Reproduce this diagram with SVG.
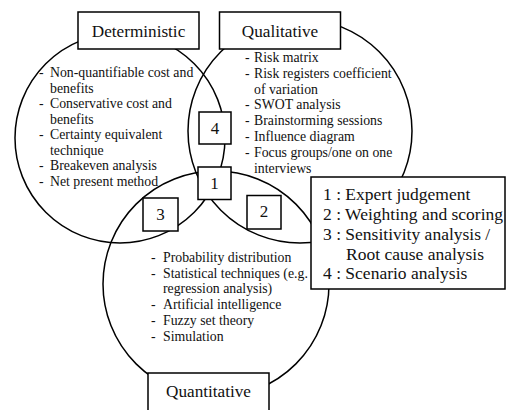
<svg xmlns="http://www.w3.org/2000/svg" width="507" height="410" viewBox="0 0 507 410">
<style>
.c{fill:none;stroke:#000;stroke-width:1.5}
.b{fill:#fff;stroke:#000;stroke-width:1.5}
</style>
<rect width="507" height="410" fill="#fff"/>
<g id="connectors">
<circle id="c-det" class="c" cx="120" cy="138" r="105"/>
<circle id="c-qual" class="c" cx="300" cy="131" r="112"/>
<circle id="c-quant" class="c" cx="216" cy="284" r="113"/>
</g>
<g id="deterministic">
<rect class="b" x="78" y="12" width="121" height="37"/>
<text font-family="Liberation Serif" font-size="17.2" text-anchor="middle" fill="#111" x="138.5" y="36.5">Deterministic</text>
<text font-family="Liberation Serif" font-size="13.8" fill="#111"><tspan x="39" y="77">-</tspan><tspan x="50" y="77">Non-quantifiable cost and</tspan><tspan x="50" y="92.5">benefits</tspan><tspan x="39" y="108">-</tspan><tspan x="50" y="108">Conservative cost and</tspan><tspan x="50" y="123.5">benefits</tspan><tspan x="39" y="139">-</tspan><tspan x="50" y="139">Certainty equivalent</tspan><tspan x="50" y="154.5">technique</tspan><tspan x="39" y="170">-</tspan><tspan x="50" y="170">Breakeven analysis</tspan><tspan x="39" y="186">-</tspan><tspan x="50" y="186">Net present method</tspan></text>
</g>
<g id="qualitative">
<rect class="b" x="219.5" y="12" width="121" height="37"/>
<text font-family="Liberation Serif" font-size="17.2" text-anchor="middle" fill="#111" x="280" y="36.5">Qualitative</text>
<text font-family="Liberation Serif" font-size="13.8" fill="#111"><tspan x="245" y="62">-</tspan><tspan x="254" y="62">Risk matrix</tspan><tspan x="245" y="78">-</tspan><tspan x="254" y="78">Risk registers coefficient</tspan><tspan x="254" y="93.5">of variation</tspan><tspan x="245" y="109">-</tspan><tspan x="254" y="109">SWOT analysis</tspan><tspan x="245" y="125">-</tspan><tspan x="254" y="125">Brainstorming sessions</tspan><tspan x="245" y="141">-</tspan><tspan x="254" y="141">Influence diagram</tspan><tspan x="245" y="157">-</tspan><tspan x="254" y="157">Focus groups/one on one</tspan><tspan x="254" y="172.5">interviews</tspan></text>
</g>
<g id="quantitative">
<rect class="b" x="148" y="373" width="121" height="40"/>
<text font-family="Liberation Serif" font-size="17.2" text-anchor="middle" fill="#111" x="208.5" y="397">Quantitative</text>
<text font-family="Liberation Serif" font-size="13.8" fill="#111"><tspan x="151" y="262">-</tspan><tspan x="163" y="262">Probability distribution</tspan><tspan x="151" y="277.5">-</tspan><tspan x="163" y="277.5">Statistical techniques (e.g.</tspan><tspan x="163" y="293">regression analysis)</tspan><tspan x="151" y="309">-</tspan><tspan x="163" y="309">Artificial intelligence</tspan><tspan x="151" y="325">-</tspan><tspan x="163" y="325">Fuzzy set theory</tspan><tspan x="151" y="340.5">-</tspan><tspan x="163" y="340.5">Simulation</tspan></text>
</g>
<g id="n4">
<rect class="b" x="199" y="112" width="32" height="32"/>
<text font-family="Liberation Serif" font-size="17" text-anchor="middle" fill="#111" x="215" y="134">4</text>
</g>
<g id="n1">
<rect class="b" x="198" y="167" width="33" height="32.5"/>
<text font-family="Liberation Serif" font-size="17" text-anchor="middle" fill="#111" x="214.5" y="189">1</text>
</g>
<g id="n3">
<rect class="b" x="143" y="198" width="35" height="33"/>
<text font-family="Liberation Serif" font-size="17" text-anchor="middle" fill="#111" x="160.5" y="220">3</text>
</g>
<g id="n2">
<rect class="b" x="247" y="195.5" width="34" height="33.5"/>
<text font-family="Liberation Serif" font-size="17" text-anchor="middle" fill="#111" x="264" y="217">2</text>
</g>
<g id="legend">
<rect class="b" x="311" y="177" width="194" height="112"/>
<text font-family="Liberation Serif" font-size="17.5" fill="#111"><tspan x="323" y="200">1 : Expert judgement</tspan><tspan x="323" y="219.5">2 : Weighting and scoring</tspan><tspan x="323" y="240">3 : Sensitivity analysis /</tspan><tspan x="346" y="260">Root cause analysis</tspan><tspan x="323" y="278.5">4 : Scenario analysis</tspan></text>
</g>
</svg>
